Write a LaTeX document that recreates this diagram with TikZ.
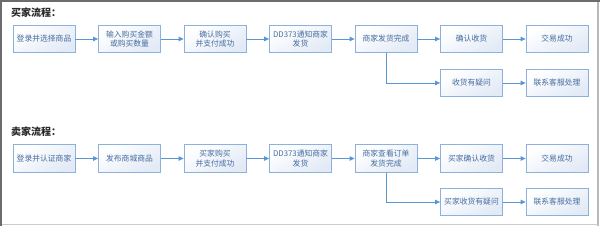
\documentclass[tikz,border=0pt]{standalone}
\usepackage{fontspec}
\newfontfamily\cjk{Noto Sans CJK SC}
\usepackage{tikz}
\usetikzlibrary{arrows.meta,calc,positioning}
\definecolor{boxline}{RGB}{141,177,222}
\definecolor{boxbot}{RGB}{226,234,246}
\definecolor{flowline}{RGB}{91,150,212}
\definecolor{boxtext}{RGB}{70,108,160}
\newcommand{\stepw}{85.5}

\begin{document}
\begin{tikzpicture}[x=1pt,y=1pt,
  stepbox/.style={draw=boxline, line width=0.8pt, top color=white, bottom color=boxbot,
    shading angle=30, minimum width=62pt, minimum height=27.5pt, inner sep=1pt,
    align=center, text=boxtext, font=\cjk\fontsize{7.8}{9.8}\selectfont},
  flow/.style={draw=flowline, line width=0.8pt, -{Triangle[length=5pt,width=4.5pt]}},
  heading/.style={anchor=west, inner sep=0pt, text={rgb,255:red,40;green,40;blue,40},
    font=\cjk\bfseries\fontsize{10}{12}\selectfont}]
  \useasboundingbox (0,0) rectangle (600,226);

  % frame
  \fill[white] (0,0) rectangle (600,226);
  \draw[gray!55, line width=2pt] (597.5,0) -- (597.5,226);
  \draw[gray!40, line width=1.2pt] (0,1.6) -- (598,1.6);
  \draw[gray!85!black, line width=2pt] (1,0) -- (1,225) -- (600,225);

  % buyer flow
  \node[heading] (hbuy) at (11,213) {买家流程：};
  \foreach \n/\txt in {1/登录并选择商品, 2/输入购买金额\\或购买数量, 3/确认购买\\并支付成功,
      4/DD373通知商家\\发货, 5/商家发货完成, 6/确认收货, 7/交易成功} {
    \node[stepbox] (b\n) at ({44+\stepw*(\n-1)},187) {\txt};
  }
  \node[stepbox] (b8) at ({44+\stepw*5},143) {收货有疑问};
  \node[stepbox] (b9) at ({44+\stepw*6},143) {联系客服处理};
  \foreach \a/\b in {1/2,2/3,3/4,4/5,5/6,6/7,8/9} {
    \draw[flow] (b\a) -- (b\b);
  }
  \draw[flow] (b5.south) |- (b8.west);

  % seller flow
  \node[heading] (hsell) at (11,94) {卖家流程：};
  \foreach \n/\txt in {1/登录并认证商家, 2/发布商城商品, 3/买家购买\\并支付成功,
      4/DD373通知商家\\发货, 5/商家查看订单\\发货完成, 6/买家确认收货, 7/交易成功} {
    \node[stepbox] (s\n) at ({44+\stepw*(\n-1)},67.5) {\txt};
  }
  \node[stepbox] (s8) at ({44+\stepw*5},24) {买家收货有疑问};
  \node[stepbox] (s9) at ({44+\stepw*6},24) {联系客服处理};
  \foreach \a/\b in {1/2,2/3,3/4,4/5,5/6,6/7,8/9} {
    \draw[flow] (s\a) -- (s\b);
  }
  \draw[flow] (s5.south) |- (s8.west);
\end{tikzpicture}
\end{document}
